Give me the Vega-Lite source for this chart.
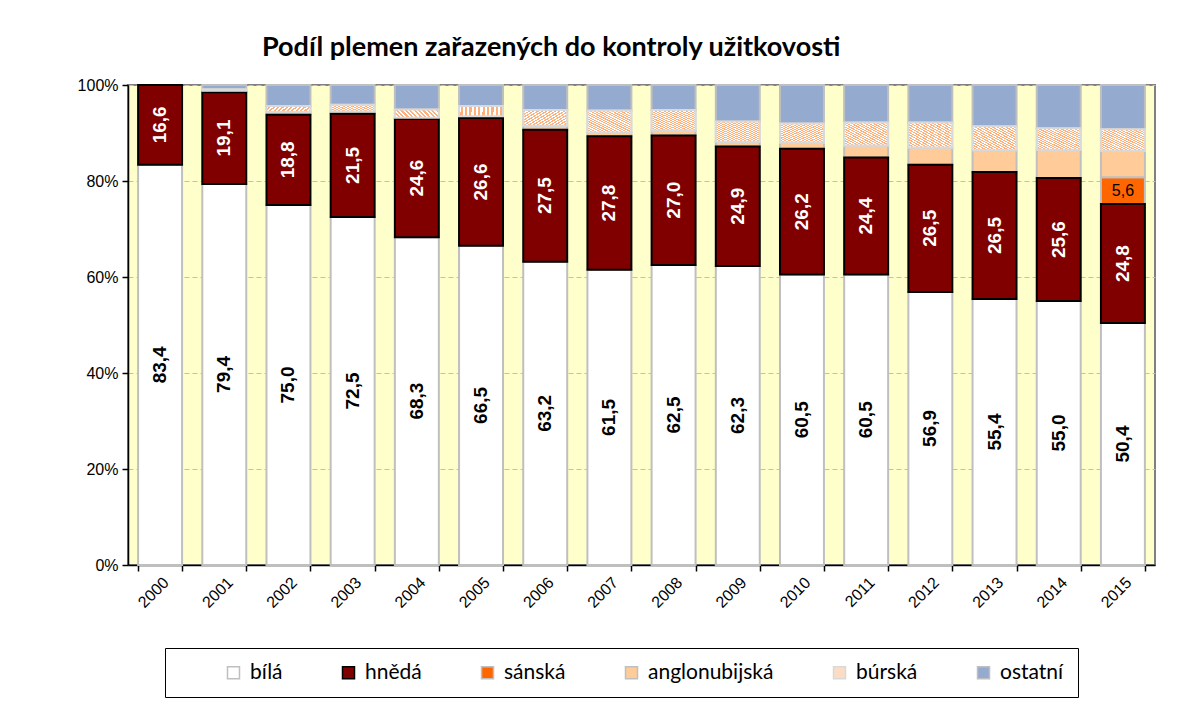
{
  "$schema": "https://vega.github.io/schema/vega-lite/v6.json",
  "autosize": {"type": "none"},
  "width": 1027,
  "height": 480,
  "padding": {"left": 128, "top": 85, "right": 31, "bottom": 147},
  "background": "#FFFFFF",
  "title": {
    "text": "Podíl plemen zařazených do kontroly užitkovosti",
    "anchor": "start",
    "frame": "group",
    "dx": 134,
    "offset": 15,
    "font": "Lato",
    "fontSize": 27,
    "fontWeight": "bold",
    "color": "#000000"
  },
  "config": {
    "view": {"fill": "#FFFFCC", "stroke": "#808080", "strokeWidth": 2}
  },
  "data": {
    "values": [
      {"rok": "2000", "plemeno": "bílá", "podil": 83.4},
      {"rok": "2001", "plemeno": "bílá", "podil": 79.4},
      {"rok": "2001", "plemeno": "anglonubijská", "podil": 0.3},
      {"rok": "2001", "plemeno": "búrská", "podil": 0.3},
      {"rok": "2001", "plemeno": "ostatní", "podil": 0.9},
      {"rok": "2002", "plemeno": "bílá", "podil": 75.0},
      {"rok": "2002", "plemeno": "anglonubijská", "podil": 0.6},
      {"rok": "2002", "plemeno": "búrská", "podil": 1.2},
      {"rok": "2002", "plemeno": "ostatní", "podil": 4.4},
      {"rok": "2003", "plemeno": "bílá", "podil": 72.5},
      {"rok": "2003", "plemeno": "anglonubijská", "podil": 0.5},
      {"rok": "2003", "plemeno": "búrská", "podil": 1.4},
      {"rok": "2003", "plemeno": "ostatní", "podil": 4.1},
      {"rok": "2004", "plemeno": "bílá", "podil": 68.3},
      {"rok": "2004", "plemeno": "anglonubijská", "podil": 0.3},
      {"rok": "2004", "plemeno": "búrská", "podil": 1.7},
      {"rok": "2004", "plemeno": "ostatní", "podil": 5.1},
      {"rok": "2005", "plemeno": "bílá", "podil": 66.5},
      {"rok": "2005", "plemeno": "anglonubijská", "podil": 0.4},
      {"rok": "2005", "plemeno": "búrská", "podil": 2.1},
      {"rok": "2005", "plemeno": "ostatní", "podil": 4.4},
      {"rok": "2006", "plemeno": "bílá", "podil": 63.2},
      {"rok": "2006", "plemeno": "anglonubijská", "podil": 0.8},
      {"rok": "2006", "plemeno": "búrská", "podil": 3.3},
      {"rok": "2006", "plemeno": "ostatní", "podil": 5.2},
      {"rok": "2007", "plemeno": "bílá", "podil": 61.5},
      {"rok": "2007", "plemeno": "anglonubijská", "podil": 0.8},
      {"rok": "2007", "plemeno": "búrská", "podil": 4.6},
      {"rok": "2007", "plemeno": "ostatní", "podil": 5.3},
      {"rok": "2008", "plemeno": "bílá", "podil": 62.5},
      {"rok": "2008", "plemeno": "anglonubijská", "podil": 1.0},
      {"rok": "2008", "plemeno": "búrská", "podil": 4.3},
      {"rok": "2008", "plemeno": "ostatní", "podil": 5.2},
      {"rok": "2009", "plemeno": "bílá", "podil": 62.3},
      {"rok": "2009", "plemeno": "anglonubijská", "podil": 1.0},
      {"rok": "2009", "plemeno": "búrská", "podil": 4.2},
      {"rok": "2009", "plemeno": "ostatní", "podil": 7.6},
      {"rok": "2010", "plemeno": "bílá", "podil": 60.5},
      {"rok": "2010", "plemeno": "anglonubijská", "podil": 1.3},
      {"rok": "2010", "plemeno": "búrská", "podil": 4.0},
      {"rok": "2010", "plemeno": "ostatní", "podil": 8.0},
      {"rok": "2011", "plemeno": "bílá", "podil": 60.5},
      {"rok": "2011", "plemeno": "anglonubijská", "podil": 2.5},
      {"rok": "2011", "plemeno": "búrská", "podil": 4.8},
      {"rok": "2011", "plemeno": "ostatní", "podil": 7.8},
      {"rok": "2012", "plemeno": "bílá", "podil": 56.9},
      {"rok": "2012", "plemeno": "anglonubijská", "podil": 3.6},
      {"rok": "2012", "plemeno": "búrská", "podil": 5.2},
      {"rok": "2012", "plemeno": "ostatní", "podil": 7.8},
      {"rok": "2013", "plemeno": "bílá", "podil": 55.4},
      {"rok": "2013", "plemeno": "anglonubijská", "podil": 4.5},
      {"rok": "2013", "plemeno": "búrská", "podil": 5.0},
      {"rok": "2013", "plemeno": "ostatní", "podil": 8.6},
      {"rok": "2014", "plemeno": "bílá", "podil": 55.0},
      {"rok": "2014", "plemeno": "anglonubijská", "podil": 5.9},
      {"rok": "2014", "plemeno": "búrská", "podil": 4.5},
      {"rok": "2014", "plemeno": "ostatní", "podil": 9.0},
      {"rok": "2015", "plemeno": "bílá", "podil": 50.4},
      {"rok": "2015", "plemeno": "sánská", "podil": 5.6},
      {"rok": "2015", "plemeno": "anglonubijská", "podil": 5.5},
      {"rok": "2015", "plemeno": "búrská", "podil": 4.5},
      {"rok": "2015", "plemeno": "ostatní", "podil": 9.2},
      {"rok": "2000", "plemeno": "hnědá", "podil": 16.6},
      {"rok": "2001", "plemeno": "hnědá", "podil": 19.1},
      {"rok": "2002", "plemeno": "hnědá", "podil": 18.8},
      {"rok": "2003", "plemeno": "hnědá", "podil": 21.5},
      {"rok": "2004", "plemeno": "hnědá", "podil": 24.6},
      {"rok": "2005", "plemeno": "hnědá", "podil": 26.6},
      {"rok": "2006", "plemeno": "hnědá", "podil": 27.5},
      {"rok": "2007", "plemeno": "hnědá", "podil": 27.8},
      {"rok": "2008", "plemeno": "hnědá", "podil": 27.0},
      {"rok": "2009", "plemeno": "hnědá", "podil": 24.9},
      {"rok": "2010", "plemeno": "hnědá", "podil": 26.2},
      {"rok": "2011", "plemeno": "hnědá", "podil": 24.4},
      {"rok": "2012", "plemeno": "hnědá", "podil": 26.5},
      {"rok": "2013", "plemeno": "hnědá", "podil": 26.5},
      {"rok": "2014", "plemeno": "hnědá", "podil": 25.6},
      {"rok": "2015", "plemeno": "hnědá", "podil": 24.8}
    ]
  },
  "transform": [
    {"calculate": "indexof(['bílá','hnědá','sánská','anglonubijská','búrská','ostatní'], datum.plemeno)", "as": "poradi"},
    {"stack": "podil", "groupby": ["rok"], "sort": [{"field": "poradi", "order": "ascending"}], "offset": "normalize", "as": ["y0", "y1"]},
    {"calculate": "(datum.y0 + datum.y1) / 2", "as": "ymid"},
    {"calculate": "replace(format(datum.podil, '.1f'), '.', ',')", "as": "stitek"}
  ],
  "encoding": {
    "x": {
      "field": "rok",
      "type": "ordinal",
      "scale": {"paddingInner": 0.315, "paddingOuter": 0.1575},
      "axis": {
        "title": null,
        "labelAngle": -45,
        "labelFont": "Liberation Sans",
        "labelFontSize": 16,
        "labelColor": "#000000",
        "labelPadding": 3,
        "domainColor": "#000000",
        "domainWidth": 1.5,
        "tickColor": "#000000",
        "tickWidth": 1.5,
        "tickSize": 6,
        "tickBand": "extent",
        "grid": false
      }
    }
  },
  "layer": [
    {
      "mark": {"type": "bar", "strokeWidth": 2},
      "encoding": {
        "y": {
          "field": "y0",
          "type": "quantitative",
          "scale": {"domain": [0, 1], "nice": false},
          "axis": {
            "title": null,
            "values": [0, 0.2, 0.4, 0.6, 0.8, 1],
            "format": ".0%",
            "grid": true,
            "gridColor": "#BFBFBF",
            "gridDash": [5, 3],
            "gridWidth": 1,
            "domainColor": "#000000",
            "domainWidth": 1.5,
            "tickColor": "#000000",
            "tickWidth": 1.5,
            "tickSize": 6,
            "labelFont": "Liberation Sans",
            "labelFontSize": 16,
            "labelColor": "#000000",
            "labelPadding": 4
          }
        },
        "y2": {"field": "y1"},
        "color": {
          "field": "plemeno",
          "type": "nominal",
          "scale": {
            "domain": ["bílá", "hnědá", "sánská", "anglonubijská", "búrská", "ostatní"],
            "range": ["#FFFFFF", "#800000", "#FF6600", "#FFCC99", "#FDDCC6", "#95AACF"]
          },
          "legend": {
            "title": " ",
            "titleOrient": "left",
            "titlePadding": 44,
            "titleFontSize": 21,
            "orient": "none",
            "legendX": 37,
            "legendY": 563,
            "direction": "horizontal",
            "padding": 14,
            "strokeColor": "#000000",
            "fillColor": "#FFFFFF",
            "symbolType": "square",
            "symbolSize": 144,
            "symbolStrokeColor": "#A6A6A6",
            "symbolStrokeWidth": 1.5,
            "labelFont": "Lato",
            "labelFontSize": 21,
            "labelColor": "#000000",
            "labelOffset": 6,
            "columnPadding": 55,
            "labelLimit": 300
          }
        },
        "stroke": {
          "field": "plemeno",
          "type": "nominal",
          "scale": {
            "domain": ["bílá", "hnědá", "sánská", "anglonubijská", "búrská", "ostatní"],
            "range": ["#BFBFBF", "#000000", "#BFBFBF", "#BFBFBF", "#D9D9D9", "#BFBFBF"]
          },
          "legend": null
        }
      }
    },
    {
      "transform": [{"filter": "datum.plemeno == 'búrská'"}],
      "mark": {
        "type": "bar",
        "stroke": "#D9D9D9",
        "strokeWidth": 2,
        "fill": {
          "gradient": "linear",
          "x1": 0, "y1": 1, "x2": 1, "y2": 0,
          "stops": [
            {"offset": 0, "color": "#FFB07A"}, {"offset": 0.025, "color": "#FFB07A"}, {"offset": 0.025, "color": "#FFFFFF"}, {"offset": 0.05, "color": "#FFFFFF"},
            {"offset": 0.05, "color": "#FFB07A"}, {"offset": 0.075, "color": "#FFB07A"}, {"offset": 0.075, "color": "#FFFFFF"}, {"offset": 0.1, "color": "#FFFFFF"},
            {"offset": 0.1, "color": "#FFB07A"}, {"offset": 0.125, "color": "#FFB07A"}, {"offset": 0.125, "color": "#FFFFFF"}, {"offset": 0.15, "color": "#FFFFFF"},
            {"offset": 0.15, "color": "#FFB07A"}, {"offset": 0.175, "color": "#FFB07A"}, {"offset": 0.175, "color": "#FFFFFF"}, {"offset": 0.2, "color": "#FFFFFF"},
            {"offset": 0.2, "color": "#FFB07A"}, {"offset": 0.225, "color": "#FFB07A"}, {"offset": 0.225, "color": "#FFFFFF"}, {"offset": 0.25, "color": "#FFFFFF"},
            {"offset": 0.25, "color": "#FFB07A"}, {"offset": 0.275, "color": "#FFB07A"}, {"offset": 0.275, "color": "#FFFFFF"}, {"offset": 0.3, "color": "#FFFFFF"},
            {"offset": 0.3, "color": "#FFB07A"}, {"offset": 0.325, "color": "#FFB07A"}, {"offset": 0.325, "color": "#FFFFFF"}, {"offset": 0.35, "color": "#FFFFFF"},
            {"offset": 0.35, "color": "#FFB07A"}, {"offset": 0.375, "color": "#FFB07A"}, {"offset": 0.375, "color": "#FFFFFF"}, {"offset": 0.4, "color": "#FFFFFF"},
            {"offset": 0.4, "color": "#FFB07A"}, {"offset": 0.425, "color": "#FFB07A"}, {"offset": 0.425, "color": "#FFFFFF"}, {"offset": 0.45, "color": "#FFFFFF"},
            {"offset": 0.45, "color": "#FFB07A"}, {"offset": 0.475, "color": "#FFB07A"}, {"offset": 0.475, "color": "#FFFFFF"}, {"offset": 0.5, "color": "#FFFFFF"},
            {"offset": 0.5, "color": "#FFB07A"}, {"offset": 0.525, "color": "#FFB07A"}, {"offset": 0.525, "color": "#FFFFFF"}, {"offset": 0.55, "color": "#FFFFFF"},
            {"offset": 0.55, "color": "#FFB07A"}, {"offset": 0.575, "color": "#FFB07A"}, {"offset": 0.575, "color": "#FFFFFF"}, {"offset": 0.6, "color": "#FFFFFF"},
            {"offset": 0.6, "color": "#FFB07A"}, {"offset": 0.625, "color": "#FFB07A"}, {"offset": 0.625, "color": "#FFFFFF"}, {"offset": 0.65, "color": "#FFFFFF"},
            {"offset": 0.65, "color": "#FFB07A"}, {"offset": 0.675, "color": "#FFB07A"}, {"offset": 0.675, "color": "#FFFFFF"}, {"offset": 0.7, "color": "#FFFFFF"},
            {"offset": 0.7, "color": "#FFB07A"}, {"offset": 0.725, "color": "#FFB07A"}, {"offset": 0.725, "color": "#FFFFFF"}, {"offset": 0.75, "color": "#FFFFFF"},
            {"offset": 0.75, "color": "#FFB07A"}, {"offset": 0.775, "color": "#FFB07A"}, {"offset": 0.775, "color": "#FFFFFF"}, {"offset": 0.8, "color": "#FFFFFF"},
            {"offset": 0.8, "color": "#FFB07A"}, {"offset": 0.825, "color": "#FFB07A"}, {"offset": 0.825, "color": "#FFFFFF"}, {"offset": 0.85, "color": "#FFFFFF"},
            {"offset": 0.85, "color": "#FFB07A"}, {"offset": 0.875, "color": "#FFB07A"}, {"offset": 0.875, "color": "#FFFFFF"}, {"offset": 0.9, "color": "#FFFFFF"},
            {"offset": 0.9, "color": "#FFB07A"}, {"offset": 0.925, "color": "#FFB07A"}, {"offset": 0.925, "color": "#FFFFFF"}, {"offset": 0.95, "color": "#FFFFFF"},
            {"offset": 0.95, "color": "#FFB07A"}, {"offset": 0.975, "color": "#FFB07A"}, {"offset": 0.975, "color": "#FFFFFF"}, {"offset": 1, "color": "#FFFFFF"}
          ]
        }
      },
      "encoding": {
        "y": {"field": "y0", "type": "quantitative"},
        "y2": {"field": "y1"}
      }
    },
    {
      "transform": [{"filter": "datum.plemeno == 'bílá'"}],
      "mark": {"type": "text", "angle": 270, "font": "Liberation Sans", "fontSize": 19, "fontWeight": "bold", "color": "#000000"},
      "encoding": {
        "y": {"field": "ymid", "type": "quantitative"},
        "text": {"field": "stitek"}
      }
    },
    {
      "transform": [{"filter": "datum.plemeno == 'hnědá'"}],
      "mark": {"type": "text", "angle": 270, "font": "Liberation Sans", "fontSize": 19, "fontWeight": "bold", "color": "#FFFFFF"},
      "encoding": {
        "y": {"field": "ymid", "type": "quantitative"},
        "text": {"field": "stitek"}
      }
    },
    {
      "transform": [{"filter": "datum.plemeno == 'sánská'"}],
      "mark": {"type": "text", "font": "Liberation Sans", "fontSize": 16, "color": "#000000"},
      "encoding": {
        "y": {"field": "ymid", "type": "quantitative"},
        "text": {"field": "stitek"}
      }
    }
  ]
}
